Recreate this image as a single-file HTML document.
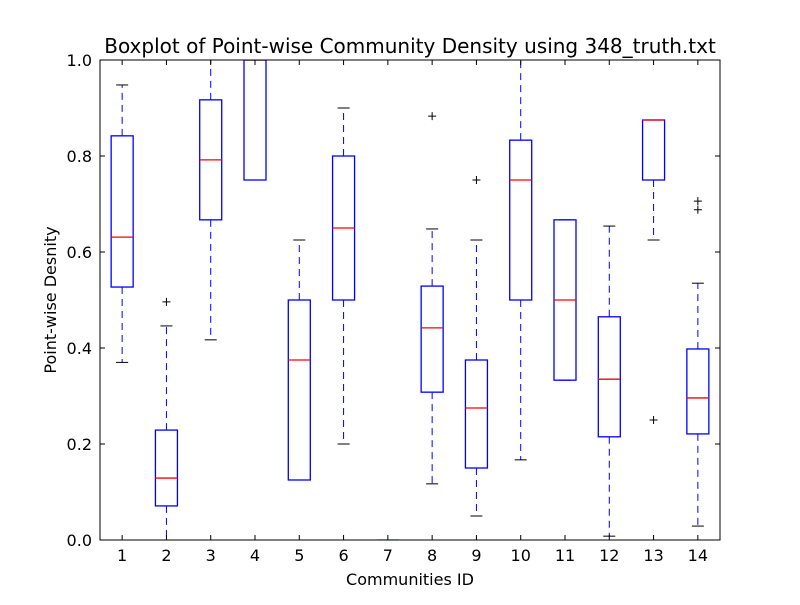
<!DOCTYPE html>
<html><head><meta charset="utf-8"><style>
body{margin:0;background:#fff;}
svg{font-family:"DejaVu Sans","Liberation Sans",sans-serif;}
</style></head><body>
<svg id="chart" width="800" height="600" xmlns="http://www.w3.org/2000/svg">
<rect width="800" height="600" fill="#fff"/>
<defs><clipPath id="clip"><rect x="100" y="60" width="620" height="480"/></clipPath></defs>
<text x="410" y="53" text-anchor="middle" font-size="20">Boxplot of Point-wise Community Density using 348_truth.txt</text>
<text x="410" y="585" text-anchor="middle" font-size="16">Communities ID</text>
<text transform="translate(56,300) rotate(-90)" text-anchor="middle" font-size="16">Point-wise Desnity</text>
<g id="marks" clip-path="url(#clip)"></g>
<g id="axes"></g>
<rect x="100" y="60" width="620" height="480" fill="none" stroke="#000" stroke-width="1"/>
</svg>
<script>
const categories=['1','2','3','4','5','6','7','8','9','10','11','12','13','14'];
const whiskerLow=[0.37,0,0.417,0.75,0.125,0.2,0,0.117,0.05,0.167,0.333,0.008,0.625,0.029];
const q1=[0.527,0.071,0.667,0.75,0.125,0.5,0,0.308,0.15,0.5,0.333,0.215,0.75,0.221];
const medians=[0.631,0.129,0.792,1.0,0.375,0.65,0,0.442,0.275,0.75,0.5,0.335,0.875,0.296];
const q3=[0.842,0.229,0.917,1.0,0.5,0.8,0,0.529,0.375,0.833,0.667,0.465,0.875,0.398];
const whiskerHigh=[0.948,0.446,1.0,1.0,0.625,0.9,0,0.648,0.625,1.0,0.667,0.654,0.875,0.535];
const fliers=[[],[0.496],[],[],[],[],[],[0.883],[0.75],[],[],[],[0.25],[0.688,0.706]];
const yTicks=[0,0.2,0.4,0.6,0.8,1.0];
const yTickLabels=['0.0','0.2','0.4','0.6','0.8','1.0'];

const NS='http://www.w3.org/2000/svg';
const xs=i=>100+(i+0.5)*620/categories.length;
const ys=v=>540-v*480;
const marks=document.getElementById('marks'), axes=document.getElementById('axes');
function mk(tag,attrs,parent){const e=document.createElementNS(NS,tag);for(const k in attrs)e.setAttribute(k,attrs[k]);parent.appendChild(e);return e;}
const hw=11, cw=6;
categories.forEach((c,i)=>{
  const x=xs(i);
  const g=mk('g',{},marks);
  
  
  let w1=mk('line',{x1:x,x2:x,y1:ys(q1[i]),y2:ys(whiskerLow[i]),stroke:'#00f','stroke-dasharray':'7,5'},g);
  
  
  let w2=mk('line',{x1:x,x2:x,y1:ys(q3[i]),y2:ys(whiskerHigh[i]),stroke:'#00f','stroke-dasharray':'7,5'},g);
  
  
  let c1=mk('line',{x1:x-cw,x2:x+cw,y1:ys(whiskerLow[i]),y2:ys(whiskerLow[i]),stroke:'#000'},g);
  
  
  let c2=mk('line',{x1:x-cw,x2:x+cw,y1:ys(whiskerHigh[i]),y2:ys(whiskerHigh[i]),stroke:'#000'},g);
  
  
  let b=mk('rect',{x:x-hw,y:ys(q3[i]),width:2*hw,height:Math.max(0,ys(q1[i])-ys(q3[i])),fill:'none',stroke:'#00f','stroke-width':1.3},g);
  
  
  let m=mk('line',{x1:x-hw,x2:x+hw,y1:ys(medians[i]),y2:ys(medians[i]),stroke:'#f00','stroke-width':1.3},g);
  
  
  fliers[i].forEach(v=>{
    const p=mk('path',{d:`M${x-4},${ys(v)}h8M${x},${ys(v)-4}v8`,stroke:'#000'},g);
    
    
  });
  const t1=mk('line',{x1:x,x2:x,y1:540,y2:535,stroke:'#000'},axes);
  
  
  const t2=mk('line',{x1:x,x2:x,y1:60,y2:65,stroke:'#000'},axes);
  
  
  const tl=mk('text',{x:x,y:561,'text-anchor':'middle','font-size':16},axes);
  tl.textContent=c;
  
  
});
yTicks.forEach((v,i)=>{
  const y=ys(v);
  const t1=mk('line',{x1:100,x2:105,y1:y,y2:y,stroke:'#000'},axes);
  
  
  const t2=mk('line',{x1:715,x2:720,y1:y,y2:y,stroke:'#000'},axes);
  
  
  const tl=mk('text',{x:92,y:y+6,'text-anchor':'end','font-size':16},axes);
  tl.textContent=yTickLabels[i];
  
  
});
</script>
</body></html>
